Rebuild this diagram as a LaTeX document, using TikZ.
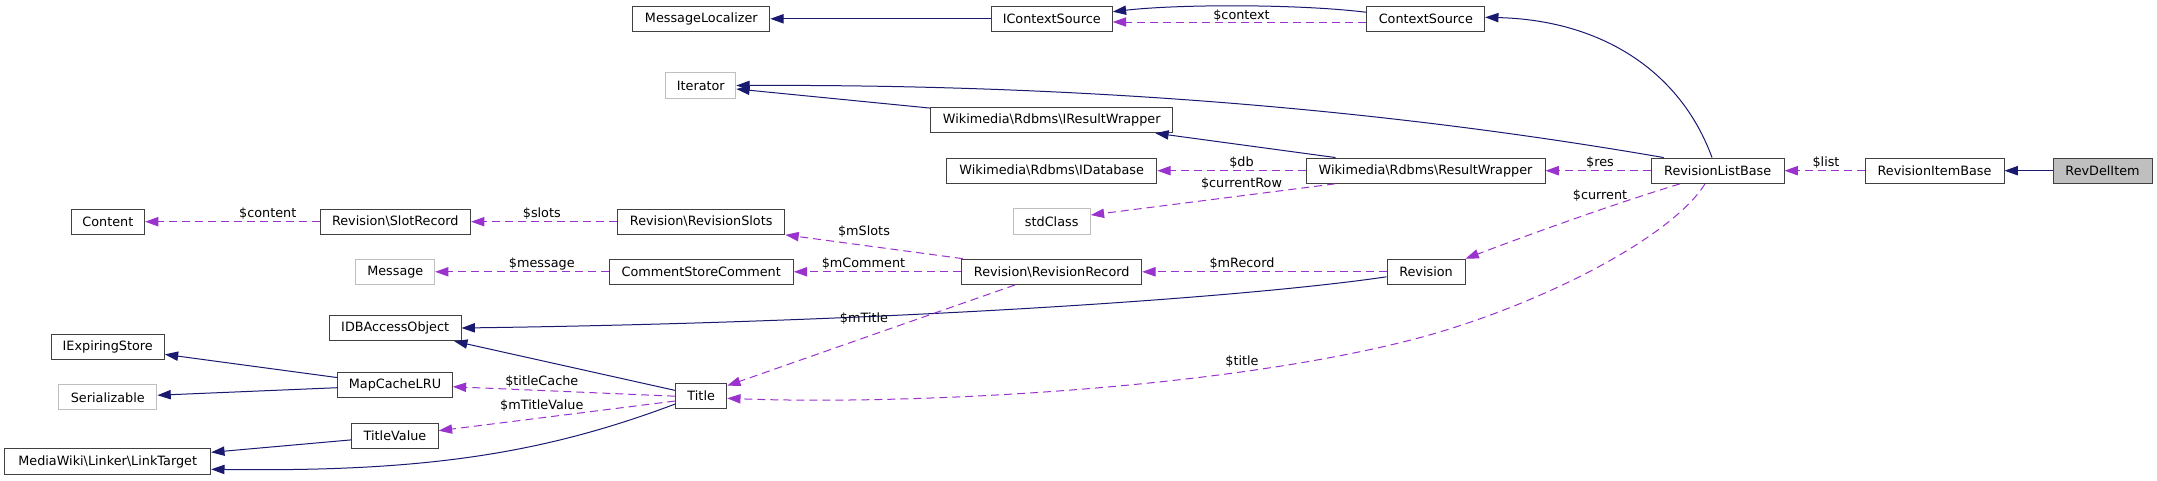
\documentclass[tikz,border=0pt]{standalone}
\usepackage{fontspec}
\setmainfont{DejaVu Sans}
\newfontfamily\dvfont{DejaVu Sans}
\usetikzlibrary{arrows.meta}
\definecolor{inhblue}{HTML}{191970}
\definecolor{usepurple}{HTML}{9A32CD}
\definecolor{nodeborder}{HTML}{404040}
\definecolor{undocgray}{HTML}{BFBFBF}
\newcommand{\nodefnt}{\dvfont\fontsize{12.8pt}{15pt}\selectfont}
\tikzset{
  cls/.style={draw=nodeborder, line width=1pt, fill=white, inner sep=0pt, minimum height=25.3pt, font=\nodefnt, text=black},
  undoc/.style={cls, draw=undocgray},
  inh/.style={draw=inhblue, line width=1pt, -{Triangle[length=13.3pt,width=9.3pt]}},
  usage/.style={draw=usepurple, line width=1pt, dash pattern=on 8pt off 5pt, -{Triangle[length=13.3pt,width=9.3pt]}},
  lbl/.style={font=\nodefnt, text=black, inner sep=0pt},
}
\begin{document}
\begin{tikzpicture}[x=1pt,y=-1pt]
\path[fill=white] (0,0) rectangle (2157,480);
\useasboundingbox (0,0) rectangle (2157,480);
% nodes
\node[cls, minimum width=137pt] (ML) at (701.3,18.8) {MessageLocalizer};
\node[cls, minimum width=121.2pt] (ICS) at (1051.7,18.8) {IContextSource};
\node[cls, minimum width=117.7pt] (CS) at (1425.8,18.8) {ContextSource};
\node[undoc, minimum width=70pt] (It) at (700.8,85.5) {Iterator};
\node[cls, minimum width=242.5pt] (IRW) at (1051.7,120) {Wikimedia\textbackslash Rdbms\textbackslash IResultWrapper};
\node[cls, minimum width=210.2pt] (IDB) at (1051.7,170.7) {Wikimedia\textbackslash Rdbms\textbackslash IDatabase};
\node[cls, minimum width=239pt] (RW) at (1425.5,170.7) {Wikimedia\textbackslash Rdbms\textbackslash ResultWrapper};
\node[cls, minimum width=132.7pt] (RLB) at (1717.7,170.7) {RevisionListBase};
\node[cls, minimum width=139pt] (RIB) at (1934.5,170.7) {RevisionItemBase};
\node[cls, fill=undocgray, minimum width=99pt] (RDI) at (2102.5,170.7) {RevDelItem};
\node[undoc, minimum width=77.2pt] (std) at (1051.7,221.5) {stdClass};
\node[cls, minimum width=73.4pt] (Con) at (107.9,221.7) {Content};
\node[cls, minimum width=150.6pt] (SR) at (395.3,221.7) {Revision\textbackslash SlotRecord};
\node[cls, minimum width=167.4pt] (RS) at (701.2,221.7) {Revision\textbackslash RevisionSlots};
\node[undoc, minimum width=78.7pt] (Msg) at (395.3,271.8) {Message};
\node[cls, minimum width=184.3pt] (CSC) at (701.2,271.8) {CommentStoreComment};
\node[cls, minimum width=180pt] (RR) at (1051.7,271.8) {Revision\textbackslash RevisionRecord};
\node[cls, minimum width=78pt] (Rev) at (1426,271.8) {Revision};
\node[cls, minimum width=131.7pt] (IDBA) at (395.2,328) {IDBAccessObject};
\node[cls, minimum width=113.3pt] (IES) at (107.7,346.7) {IExpiringStore};
\node[cls, minimum width=114.6pt] (MC) at (395,385.3) {MapCacheLRU};
\node[undoc, minimum width=98.3pt] (Ser) at (107.8,397.3) {Serializable};
\node[cls, minimum width=51pt] (Ti) at (701.2,396.2) {Title};
\node[cls, minimum width=86.6pt] (TV) at (395,436) {TitleValue};
\node[cls, minimum width=206pt] (LT) at (107.7,461.5) {MediaWiki\textbackslash Linker\textbackslash LinkTarget};
% edges
\draw[inh] (ICS) -- (ML);
\draw[inh] ([yshift=6.5pt]CS.west) .. controls (1300,4) and (1180,4) .. ([yshift=7.1pt]ICS.east);
\draw[usage] ([yshift=-3.2pt]CS.west) -- ([yshift=-3.2pt]ICS.east) node[lbl, at={(1241.5,15.8)}] {\$context};
\draw[inh] ([xshift=-5.7pt]RLB.north) .. controls (1680,70) and (1600,20) .. ([yshift=1.5pt]CS.east);
\draw[inh] ([xshift=-54pt]RLB.north) .. controls (1400,112) and (1100,84) .. (It.east);
\draw[inh] (IRW) -- (It);
\draw[inh] ([xshift=-90pt]RW.north) -- ([xshift=103.6pt]IRW.south);
\draw[usage] (RW) -- (IDB) node[lbl, at={(1241.5,163)}] {\$db};
\draw[usage] ([xshift=-90.5pt]RW.south) -- ([yshift=6.5pt]std.east) node[lbl, at={(1241.5,183.3)}] {\$currentRow};
\draw[usage] (RLB) -- (RW) node[lbl, at={(1600,163)}] {\$res};
\draw[usage] (RIB) -- (RLB) node[lbl, at={(1826,163)}] {\$list};
\draw[inh] (RDI) -- (RIB);
\draw[usage] ([xshift=-37.7pt]RLB.south) .. controls (1610,205) and (1520,238) .. (Rev.north east) node[lbl, at={(1600,196)}] {\$current};
\draw[usage] ([xshift=-12.7pt]RLB.south) .. controls (1670,240) and (1530,310) .. (1407,341) .. controls (1207,391) and (900,405) .. ([yshift=-2.1pt]Ti.east) node[lbl, at={(1242,362)}] {\$title};
\draw[usage] (Rev) -- (RR) node[lbl, at={(1242,264)}] {\$mRecord};
\draw[inh] ([yshift=-5pt]Rev.west) .. controls (1250,297) and (900,322) .. (IDBA.east);
\draw[usage] (RR) -- (CSC) node[lbl, at={(863.5,264)}] {\$mComment};
\draw[usage] (CSC) -- (Msg) node[lbl, at={(541.8,264)}] {\$message};
\draw[usage] ([xshift=1.6pt]RR.north west) -- (RS.south east) node[lbl, at={(864,232)}] {\$mSlots};
\draw[usage] ([xshift=-36.7pt]RR.south) -- ([yshift=10.5pt]Ti.east) node[lbl, at={(864,319)}] {\$mTitle};
\draw[inh] (Ti) -- (IDBA);
\draw[usage] (Ti.west) -- ([yshift=-1.4pt]MC.east) node[lbl, at={(541.8,381.7)}] {\$titleCache};
\draw[usage] ([yshift=-4.8pt]Ti.west) -- ([yshift=5.3pt]TV.east) node[lbl, at={(541.8,405.7)}] {\$mTitleValue};
\draw[inh] (MC) -- (IES);
\draw[inh] (MC) -- (Ser);
\draw[inh] (TV) -- (LT);
\draw[inh] ([yshift=-7.8pt]Ti.west) .. controls (540,455) and (420,472) .. ([yshift=-7.8pt]LT.east);
\draw[usage] (RS) -- (SR) node[lbl, at={(541.8,214)}] {\$slots};
\draw[usage] (SR) -- (Con) node[lbl, at={(267.7,214)}] {\$content};
\end{tikzpicture}
\end{document}
